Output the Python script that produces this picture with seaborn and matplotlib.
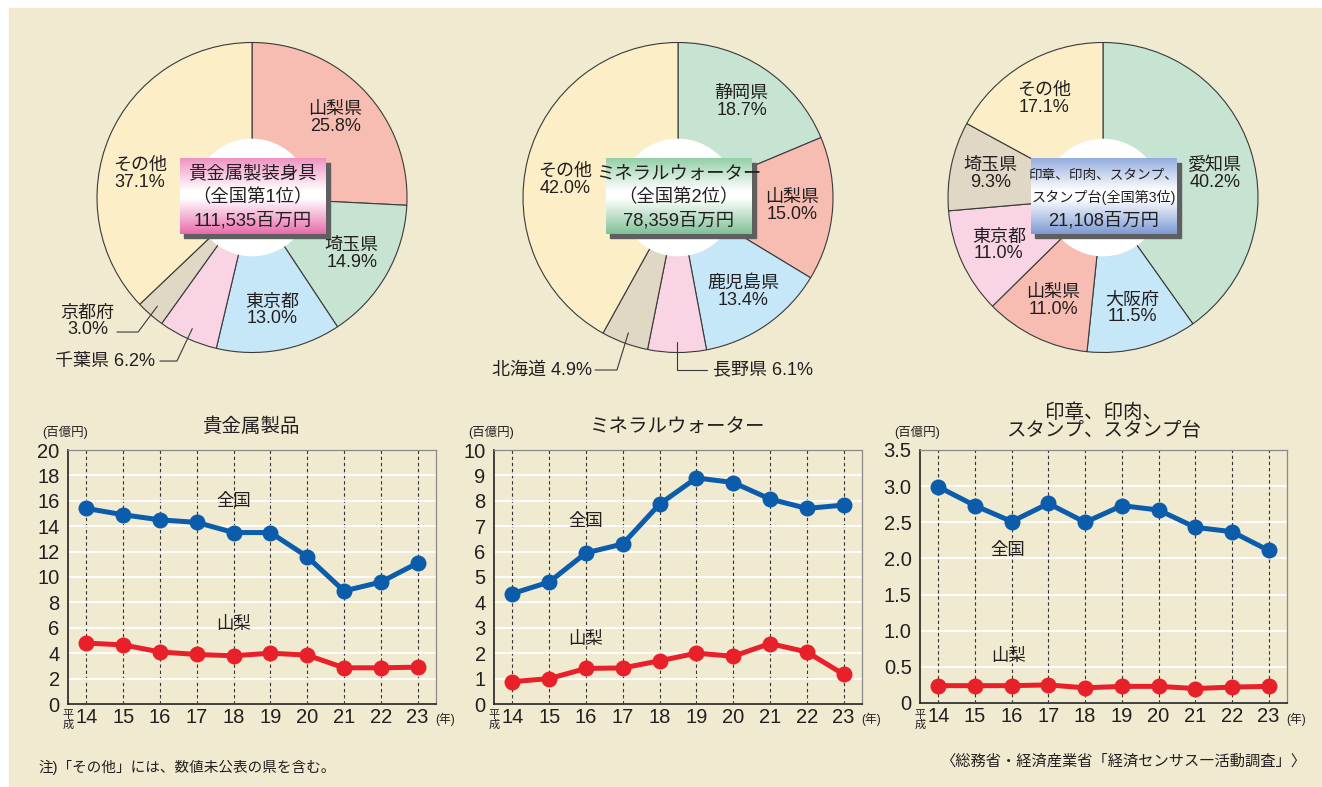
import numpy as np
import matplotlib
matplotlib.use('Agg')
import matplotlib.pyplot as plt
from matplotlib.patches import Rectangle, Circle
from matplotlib.colors import to_rgb
import seaborn as sns


# ── Data ──────────────────────────────────────────────────────────────────────

pie1_labels = ['山梨県', '埼玉県', '東京都', '千葉県', '京都府', 'その他']
pie1_values = [25.8, 14.9, 13.0, 6.2, 3.0, 37.1]
pie1_colors = ['salmon', 'green', 'blue', 'pink', 'gray', 'yellow']
pie1_box = ['貴金属製装身具', '（全国第1位）', '111,535百万円']

pie2_labels = ['静岡県', '山梨県', '鹿児島県', '長野県', '北海道', 'その他']
pie2_values = [18.7, 15.0, 13.4, 6.1, 4.9, 42.0]
pie2_colors = ['green', 'salmon', 'blue', 'pink', 'gray', 'yellow']
pie2_box = ['ミネラルウォーター', '（全国第2位）', '78,359百万円']

pie3_labels = ['愛知県', '大阪府', '山梨県', '東京都', '埼玉県', 'その他']
pie3_values = [40.2, 11.5, 11.0, 11.0, 9.3, 17.1]
pie3_colors = ['green', 'blue', 'salmon', 'pink', 'gray', 'yellow']
pie3_box = ['印章、印肉、スタンプ、', 'スタンプ台(全国第3位)', '21,108百万円']

years = [14, 15, 16, 17, 18, 19, 20, 21, 22, 23]
year_labels = ['14', '15', '16', '17', '18', '19', '20', '21', '22', '23']

kikinzoku_zenkoku = [15.4, 14.9, 14.5, 14.3, 13.5, 13.5, 11.6, 8.9, 9.6, 11.1]
kikinzoku_yamanashi = [4.8, 4.65, 4.1, 3.9, 3.8, 4.0, 3.85, 2.85, 2.85, 2.9]

mineral_zenkoku = [4.35, 4.8, 5.95, 6.3, 7.87, 8.9, 8.72, 8.07, 7.7, 7.83]
mineral_yamanashi = [0.88, 1.0, 1.4, 1.42, 1.7, 2.0, 1.88, 2.38, 2.05, 1.17]

inshou_zenkoku = [2.99, 2.73, 2.51, 2.76, 2.50, 2.73, 2.67, 2.43, 2.37, 2.11]
inshou_yamanashi = [0.24, 0.24, 0.24, 0.25, 0.21, 0.23, 0.23, 0.20, 0.22, 0.23]


# ── Style ─────────────────────────────────────────────────────────────────────

W, H = 1322, 787
BG = '#F0EAD0'
TXT = '#231F20'
BLUE = '#0B5CAB'
RED = '#E8202A'

slice_colors = {
    'salmon': '#F7BDB3',
    'green':  '#C7E3D1',
    'blue':   '#C5E7F8',
    'pink':   '#F8D4E4',
    'gray':   '#E0D8C4',
    'yellow': '#FCEFC7',
}

sns.set_theme(style='white')
# Latin/digits in Liberation Sans, kana/kanji fall back to Noto CJK
plt.rcParams['font.family'] = ['Liberation Sans', 'Noto Sans CJK JP', 'DejaVu Sans']
plt.rcParams['text.color'] = TXT


def px_rect(x0, y0, w, h):
    """Pixel box (top-left origin) -> figure fraction rect."""
    return [x0 / W, 1 - (y0 + h) / H, w / W, h / H]


def fig_text(fig, x, y, s, **kw):
    fig.text(x / W, 1 - y / H, s, **kw)


# ── Pies ──────────────────────────────────────────────────────────────────────

R = 155
PIE_CY = 197.5


def gradient_box(ax, x0, y0, w, h, c_bot, c_top):
    t = np.linspace(0, 1, 200)
    stops = [0.0, 0.47, 0.57, 1.0]
    cb, ct, wh = to_rgb(c_bot), to_rgb(c_top), (1, 1, 1)
    grad = np.zeros((200, 1, 3))
    for ch in range(3):
        grad[:, 0, ch] = np.interp(t, stops, [cb[ch], wh[ch], wh[ch], ct[ch]])
    grad = grad[::-1]
    sh = 4 / R
    ax.add_patch(Rectangle((x0 + sh, y0 - sh), w, h, color='#5F5F62', zorder=6))
    ax.imshow(grad, extent=[x0, x0 + w, y0, y0 + h], aspect='auto', zorder=7,
              interpolation='bilinear')


def draw_pie(fig, cx, labels, values, colors, box_lines, box_cols, outside,
             box_sizes=(13.2, 13.2, 13.2), label_angle=None):
    label_angle = label_angle or {}
    ax = fig.add_axes(px_rect(cx - R, PIE_CY - R, 2 * R, 2 * R))
    wedges, _ = ax.pie(values, colors=[slice_colors[c] for c in colors],
                       startangle=90, counterclock=False, radius=1,
                       wedgeprops=dict(edgecolor='#3A3A3A', linewidth=0.8))
    ax.add_patch(Circle((0, 0), 0.375, color='white', zorder=3))

    for wdg, name, val in zip(wedges, labels, values):
        mid = np.deg2rad((wdg.theta1 + wdg.theta2) / 2)
        if name in outside:
            o = outside[name]
            sx, sy = 0.93 * np.cos(mid), 0.93 * np.sin(mid)
            ex = sx if o['elbow_x'] is None else o['elbow_x']
            ey = o['y']
            ax.plot([sx, ex, o['end_x']], [sy, ey, ey], color='#3A3A3A',
                    lw=0.8, clip_on=False, zorder=4)
            ax.text(o['tx'], o['ty'], o['text'], ha=o['ha'], va='center',
                    fontsize=13, linespacing=1.0, clip_on=False)
        else:
            ang = np.deg2rad(label_angle[name]) if name in label_angle else mid
            ax.text(0.74 * np.cos(ang), 0.74 * np.sin(ang),
                    f'{name}\n{val:.1f}%', ha='center', va='center',
                    fontsize=13, linespacing=1.0, zorder=5)

    bx0, by0, bw, bh = -0.465, -0.235, 0.94, 0.485
    gradient_box(ax, bx0, by0, bw, bh, box_cols[0], box_cols[1])
    for i, (line, fs) in enumerate(zip(box_lines, box_sizes)):
        ax.text(bx0 + bw / 2, by0 + bh * (0.79 - 0.31 * i), line,
                ha='center', va='center', fontsize=fs, zorder=8)

    ax.set_xlim(-1, 1)
    ax.set_ylim(-1, 1)
    ax.set_aspect('equal')
    ax.axis('off')
    return ax


# ── Line charts ───────────────────────────────────────────────────────────────

def draw_line(fig, rect, title, zenkoku, yamanashi, ymax, yticks, ytick_labels,
              zen_pos, yam_pos, title_two_lines=False):
    x0, y0, w, h = rect
    ax = fig.add_axes(px_rect(x0, y0, w, h))
    ax.set_facecolor(BG)

    sns.lineplot(x=years, y=zenkoku, ax=ax, color=BLUE, linewidth=3.6,
                 marker='o', markersize=11.5, markeredgewidth=0, zorder=5)
    sns.lineplot(x=years, y=yamanashi, ax=ax, color=RED, linewidth=3.6,
                 marker='o', markersize=11.5, markeredgewidth=0, zorder=5)

    ax.set_xlim(13.5, 23.5)
    ax.set_ylim(0, ymax)
    ax.set_xticks(years)
    ax.set_xticklabels(year_labels)
    ax.set_yticks(yticks)
    ax.set_yticklabels(ytick_labels)
    ax.set_axisbelow(True)
    ax.grid(axis='y', color='white', linewidth=1.3)
    ax.grid(axis='x', color='#333333', linewidth=0.8, linestyle=(0, (3, 2.5)))
    ax.tick_params(axis='both', length=0, labelsize=14.5, colors=TXT)
    ax.tick_params(axis='x', pad=3)
    ax.tick_params(axis='y', pad=6)
    for side in ['left', 'bottom']:
        ax.spines[side].set_color('#222222')
        ax.spines[side].set_linewidth(1.2)
    for side in ['top', 'right']:
        ax.spines[side].set_color('#8A8A8A')
        ax.spines[side].set_linewidth(0.9)
    ax.set_xlabel('')
    ax.set_ylabel('')

    ax.text(zen_pos[0], zen_pos[1], '全国', ha='center', va='center',
            fontsize=12.5)
    ax.text(yam_pos[0], yam_pos[1], '山梨', ha='center', va='center',
            fontsize=12.5)

    cx = x0 + w / 2
    if title_two_lines:
        fig_text(fig, cx, 440, title, ha='center', va='bottom', fontsize=14,
                 linespacing=1.0)
    else:
        fig_text(fig, cx, 427, title, ha='center', va='center', fontsize=14)
    fig_text(fig, x0 - 3, 432, '(百億円)', ha='center', va='center',
             fontsize=9)
    fig_text(fig, x0, 720, '平\n成', ha='center', va='center', fontsize=8,
             linespacing=0.9)
    fig_text(fig, x0 + w + 9, 719, '(年)', ha='center', va='center',
             fontsize=8.5)
    return ax


# ── Main ──────────────────────────────────────────────────────────────────────

fig = plt.figure(figsize=(W / 100, H / 100), dpi=100)
fig.patch.set_facecolor('white')
fig.add_artist(Rectangle((9 / W, 0), 1 - 9 / W, 1 - 8 / H,
                         transform=fig.transFigure, color=BG, zorder=0))

outside1 = {
    '京都府': dict(elbow_x=-0.735, y=-0.868, end_x=-0.871, tx=-1.06,
                   ty=-0.80, ha='center', text='京都府\n3.0%'),
    '千葉県': dict(elbow_x=-0.484, y=-1.055, end_x=-0.594, tx=-0.626,
                   ty=-1.055, ha='right', text='千葉県 6.2%'),
}
outside2 = {
    '北海道': dict(elbow_x=-0.394, y=-1.113, end_x=-0.535, tx=-0.555,
                   ty=-1.113, ha='right', text='北海道 4.9%'),
    '長野県': dict(elbow_x=None, y=-1.113, end_x=0.187, tx=0.226,
                   ty=-1.113, ha='left', text='長野県 6.1%'),
}

draw_pie(fig, 252, pie1_labels, pie1_values, pie1_colors, pie1_box,
         ('#E96BAA', '#EF92C3'), outside1, label_angle={'その他': 168})
draw_pie(fig, 678, pie2_labels, pie2_values, pie2_colors, pie2_box,
         ('#7FC196', '#93CFA7'), outside2, label_angle={'その他': 171})
draw_pie(fig, 1103, pie3_labels, pie3_values, pie3_colors, pie3_box,
         ('#7C9AD4', '#93ADDE'), {}, box_sizes=(9.8, 10.2, 13.2),
         label_angle={'愛知県': 12})

draw_line(fig, (68, 450, 368, 254), '貴金属製品',
          kikinzoku_zenkoku, kikinzoku_yamanashi, 20,
          list(range(0, 21, 2)), [str(v) for v in range(0, 21, 2)],
          (18, 16.0), (18, 6.3))
draw_line(fig, (494, 450, 368, 254), 'ミネラルウォーター',
          mineral_zenkoku, mineral_yamanashi, 10,
          list(range(0, 11)), [str(v) for v in range(0, 11)],
          (16, 7.2), (16, 2.55))
ytk3 = [0, 0.5, 1.0, 1.5, 2.0, 2.5, 3.0, 3.5]
draw_line(fig, (920, 450, 367, 253), '印章、印肉、\nスタンプ、スタンプ台',
          inshou_zenkoku, inshou_yamanashi, 3.5,
          ytk3, ['0'] + [f'{v:.1f}' for v in ytk3[1:]],
          (15.9, 2.12), (15.9, 0.65), title_two_lines=True)

fig_text(fig, 38, 767, '注)「その他」には、数値未公表の県を含む。', ha='left',
         va='center', fontsize=10.5)
fig_text(fig, 1306, 761, '〈総務省・経済産業省「経済センサス―活動調査」〉',
         ha='right', va='center', fontsize=11,
         family=['Noto Sans CJK JP', 'DejaVu Sans'])

fig.savefig('out.png', dpi=100, facecolor=fig.get_facecolor())
